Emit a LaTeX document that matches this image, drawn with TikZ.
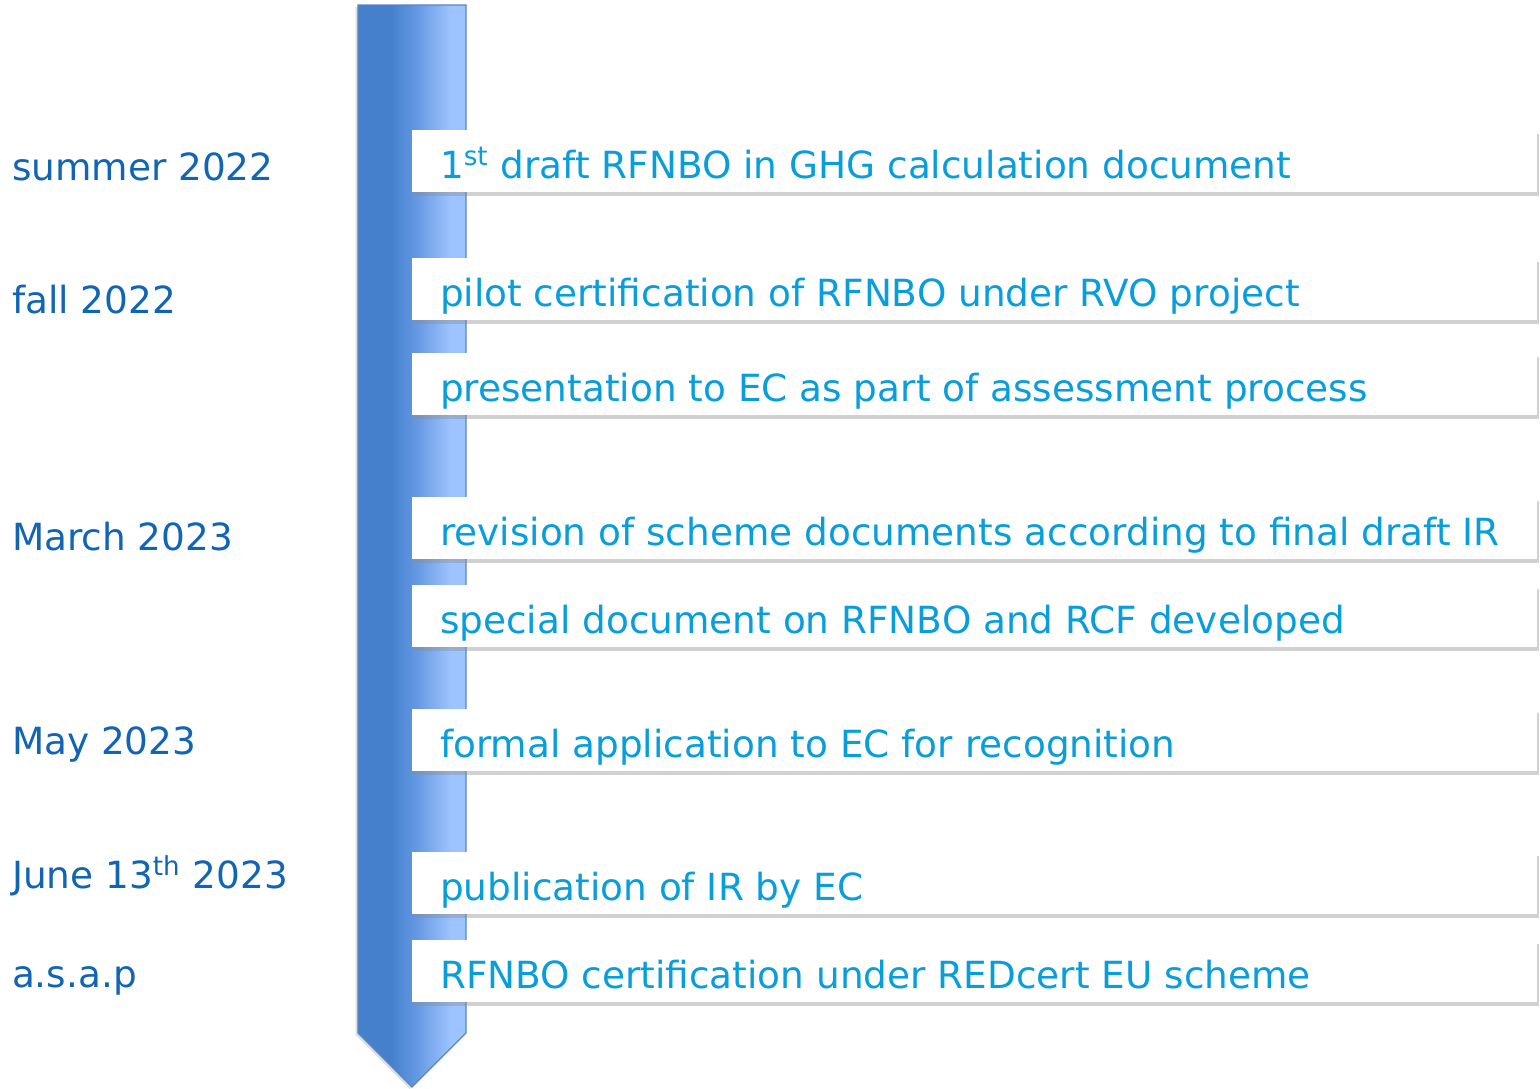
\documentclass[tikz,border=0pt]{standalone}
\usepackage{fontspec}
\setmainfont{DejaVu Sans}
\usetikzlibrary{shadows}
\definecolor{lblblue}{RGB}{18,100,180}
\definecolor{boxtext}{RGB}{8,158,220}
\definecolor{arrowL}{RGB}{68,128,204}
\definecolor{arrowM}{RGB}{100,152,226}
\definecolor{arrowR}{RGB}{158,196,255}
\definecolor{arrowedge}{RGB}{88,132,196}
\pgfdeclarehorizontalshading{arrowshade}{100bp}{color(0bp)=(arrowL); color(25bp)=(arrowL); color(40bp)=(arrowL); color(52bp)=(arrowM); color(68bp)=(arrowR); color(75bp)=(arrowR); color(100bp)=(arrowR)}
\begin{document}
\begin{tikzpicture}[x=0.5pt,y=-0.5pt,
  every node/.style={inner sep=0pt,outer sep=0pt,font=\fontsize{18.7pt}{22pt}\selectfont},
  datelabel/.style={anchor=base west,text=lblblue},
  stepbox/.style={anchor=north west,fill=white,minimum width=562.5pt,minimum height=31pt,
    drop shadow={shadow xshift=1pt,shadow yshift=-2pt,opacity=0.4,fill=black!45}},
  steptext/.style={anchor=base west,text=boxtext},
]
\path[fill=white] (0,0) rectangle (1540,1088);
\useasboundingbox (0,0) rectangle (1540,1088);
% timeline arrow
\path[shading=arrowshade,draw=arrowedge,line width=0.6pt,
  drop shadow={shadow xshift=-1.2pt,shadow yshift=-1pt,opacity=0.25,fill=black!50}]
  (358,5) -- (466,5) -- (466,1033) -- (412,1087) -- (358,1033) -- cycle;
% boxes
\node[stepbox] (b1) at (412,130) {};
\node[stepbox] (b2) at (412,258) {};
\node[stepbox] (b3) at (412,353) {};
\node[stepbox] (b4) at (412,497) {};
\node[stepbox] (b5) at (412,585) {};
\node[stepbox] (b6) at (412,709) {};
\node[stepbox] (b7) at (412,852) {};
\node[stepbox] (b8) at (412,940) {};
% box texts
\node[steptext] (t1) at (440,178) {1\textsuperscript{st} draft RFNBO in GHG calculation document};
\node[steptext] (t2) at (440,306) {pilot certification of RFNBO under RVO project};
\node[steptext] (t3) at (440,401) {presentation to EC as part of assessment process};
\node[steptext] (t4) at (440,545) {revision of scheme documents according to final draft IR};
\node[steptext] (t5) at (440,633) {special document on RFNBO and RCF developed};
\node[steptext] (t6) at (440,757) {formal application to EC for recognition};
\node[steptext] (t7) at (440,900) {publication of IR by EC};
\node[steptext] (t8) at (440,988) {RFNBO certification under REDcert EU scheme};
% date labels
\node[datelabel] (d1) at (12,180) {summer 2022};
\node[datelabel] (d2) at (12,313) {fall 2022};
\node[datelabel] (d3) at (12,550) {March 2023};
\node[datelabel] (d4) at (12,754) {May 2023};
\node[datelabel] (d5) at (12,888) {June 13\textsuperscript{th} 2023};
\node[datelabel] (d6) at (12,987) {a.s.a.p};
\end{tikzpicture}
\end{document}
